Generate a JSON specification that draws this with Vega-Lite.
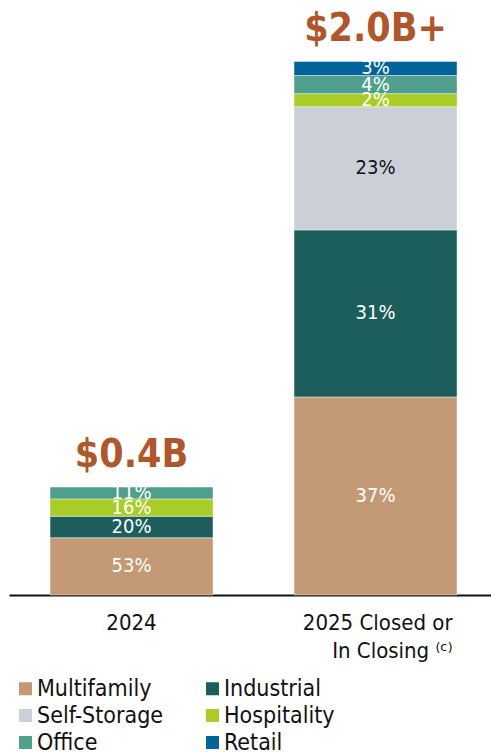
{
  "$schema": "https://vega.github.io/schema/vega-lite/v6.json",
  "width": 482,
  "height": 589,
  "autosize": {"type": "none"},
  "padding": {"left": 9, "top": 6, "right": 0, "bottom": 157},
  "background": "white",
  "config": {"view": {"stroke": null}, "font": "DejaVu Sans Condensed"},
  "datasets": {
    "segments": [
      {"period": "2024", "sector": "Multifamily", "value": 0.2147, "label": "53%"},
      {"period": "2024", "sector": "Industrial", "value": 0.081, "label": "20%"},
      {"period": "2024", "sector": "Hospitality", "value": 0.0648, "label": "16%"},
      {"period": "2024", "sector": "Office", "value": 0.0446, "label": "11%"},
      {"period": "2025 Closed or In Closing", "sector": "Multifamily", "value": 0.743, "label": "37%"},
      {"period": "2025 Closed or In Closing", "sector": "Industrial", "value": 0.627, "label": "31%"},
      {"period": "2025 Closed or In Closing", "sector": "Self-Storage", "value": 0.462, "label": "23%"},
      {"period": "2025 Closed or In Closing", "sector": "Hospitality", "value": 0.049, "label": "2%"},
      {"period": "2025 Closed or In Closing", "sector": "Office", "value": 0.068, "label": "4%"},
      {"period": "2025 Closed or In Closing", "sector": "Retail", "value": 0.053, "label": "3%"}
    ],
    "totals": [
      {"period": "2024", "total": 0.405, "label": "$0.4B"},
      {"period": "2025 Closed or In Closing", "total": 2.002, "label": "$2.0B+"}
    ]
  },
  "layer": [
    {
      "data": {"name": "segments"},
      "transform": [
        {"calculate": "indexof(['Multifamily','Industrial','Self-Storage','Hospitality','Office','Retail'], datum.sector)", "as": "rank"},
        {"stack": "value", "groupby": ["period"], "sort": [{"field": "rank"}], "as": ["v0", "v1"]}
      ],
      "mark": {"type": "bar", "stroke": "white", "strokeWidth": 0.75, "strokeOpacity": 0.6},
      "encoding": {
        "x": {
          "field": "period", "type": "nominal", "sort": null,
          "scale": {"paddingInner": 0.332, "paddingOuter": 0.1537, "align": 0.547},
          "axis": {
            "title": null, "domainColor": "#111111", "domainWidth": 2, "domainOpacity": 1, "ticks": false,
            "labelAngle": 0, "labelFontSize": 22, "labelColor": "#111111",
            "labelFont": "DejaVu Sans Condensed",
            "labelPadding": 17, "labelLineHeight": 28, "labelBaseline": "top",
            "labelExpr": "datum.value == '2024' ? '2024' : ['2025 Closed or', 'In Closing ⁽ᶜ⁾']",
            "labelAlign": {"condition": {"test": "datum.value == '2024'", "value": "center"}, "value": "right"},
            "labelOffset": {"condition": {"test": "datum.value == '2024'", "value": 0}, "value": 77}
          }
        },
        "y": {"field": "v0", "type": "quantitative", "scale": {"domain": [0, 2.21], "nice": false, "zero": true}, "axis": null},
        "y2": {"field": "v1"},
        "color": {
          "field": "sector", "type": "nominal",
          "scale": {
            "domain": ["Multifamily", "Industrial", "Self-Storage", "Hospitality", "Office", "Retail"],
            "range": ["#C49A76", "#1B5E5B", "#CBD0D8", "#A9CD26", "#4E9F8C", "#00649A"]
          },
          "legend": {
            "title": null, "orient": "none", "legendX": 5, "legendY": 671,
            "direction": "horizontal",
            "columns": 2, "columnPadding": 37, "rowPadding": 3,
            "symbolType": "square", "symbolSize": 170, "symbolStrokeWidth": 0,
            "labelFont": "DejaVu Sans Condensed", "labelFontSize": 23, "labelColor": "#111111",
            "labelOffset": 0, "labelLimit": 300
          }
        }
      }
    },
    {
      "data": {"name": "segments"},
      "transform": [
        {"calculate": "indexof(['Multifamily','Industrial','Self-Storage','Hospitality','Office','Retail'], datum.sector)", "as": "rank"},
        {"stack": "value", "groupby": ["period"], "sort": [{"field": "rank"}], "as": ["v0", "v1"]},
        {"calculate": "(datum.v0 + datum.v1) / 2", "as": "mid"}
      ],
      "mark": {"type": "text", "fontSize": 20, "font": "DejaVu Sans Condensed", "baseline": "middle", "align": "center"},
      "encoding": {
        "x": {"field": "period", "type": "nominal", "sort": null},
        "y": {"field": "mid", "type": "quantitative"},
        "text": {"field": "label"},
        "color": {"condition": {"test": "datum.sector == 'Self-Storage'", "value": "#111111"}, "value": "#ffffff"}
      }
    },
    {
      "data": {"name": "totals"},
      "mark": {"type": "text", "fontSize": 39, "fontWeight": "bold", "font": "DejaVu Sans Condensed", "color": "#B0562B", "baseline": "alphabetic", "align": "center", "dy": -20},
      "encoding": {
        "x": {"field": "period", "type": "nominal", "sort": null},
        "y": {"field": "total", "type": "quantitative"},
        "text": {"field": "label"}
      }
    }
  ]
}
